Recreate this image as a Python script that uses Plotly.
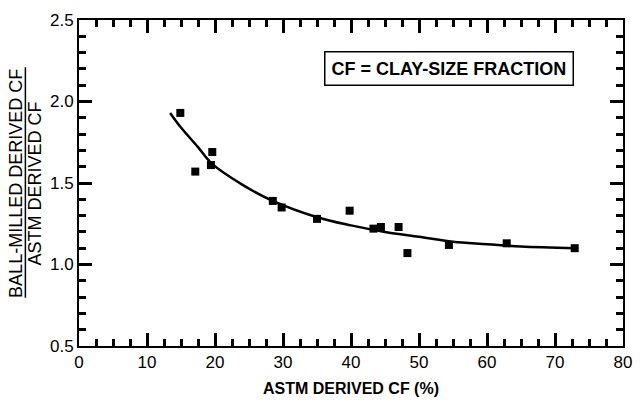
import plotly.graph_objects as go

# Measured ratios: ball-milled derived CF / ASTM derived CF
astm_cf = [14.9, 17.1, 19.4, 19.6, 28.5, 29.8, 35.0, 39.8, 43.3, 44.4, 47.0, 48.3, 54.4, 62.9, 72.9]
ratio = [1.93, 1.57, 1.61, 1.69, 1.39, 1.35, 1.28, 1.33, 1.22, 1.23, 1.23, 1.07, 1.12, 1.13, 1.10]

# Trend curve drawn through the data
trend_x = [13.4, 15.0, 17.5, 19.5, 24.0, 28.5, 35.0, 40.0, 45.0, 50.0, 55.0, 60.0, 65.0, 73.0]
trend_y = [1.93, 1.84, 1.72, 1.62, 1.49, 1.39, 1.29, 1.24, 1.20, 1.17, 1.14, 1.125, 1.11, 1.10]

x_range = [0, 80]
y_range = [0.5, 2.5]

FONT = "Liberation Sans, Arial, sans-serif"

fig = go.Figure()
fig.add_trace(go.Scatter(
    x=trend_x, y=trend_y, mode="lines",
    line=dict(color="black", width=2.5, shape="spline", smoothing=1.0),
    showlegend=False, hoverinfo="skip",
))
fig.add_trace(go.Scatter(
    x=astm_cf, y=ratio, mode="markers",
    marker=dict(symbol="square", size=8, color="black"),
    showlegend=False,
))
# the same data placed on the extra frame axes so they are laid out
for n in (2, 3, 4):
    fig.add_trace(go.Scatter(
        x=astm_cf, y=ratio, xaxis=f"x{n}", yaxis=f"y{n}", mode="markers",
        marker=dict(size=1, opacity=0), showlegend=False, hoverinfo="skip",
    ))

def frame_axis(rng, tick0, dtick, ticklen, tickwidth, **extra):
    return dict(
        range=rng, tickmode="linear", tick0=tick0, dtick=dtick,
        showgrid=False, zeroline=False, showline=True, linecolor="black",
        linewidth=2, mirror="allticks", ticks="inside", tickcolor="black",
        tickwidth=tickwidth, ticklen=ticklen, **extra,
    )

label_font = dict(family=FONT, size=17, color="black")

fig.update_layout(
    # major ticks (every 10 / every 0.5) with labels
    xaxis=frame_axis(x_range, 0, 10, 13, 3, tickfont=label_font),
    yaxis=frame_axis(y_range, 0.5, 0.5, 13, 3, tickformat=".1f", tickfont=label_font),
    # opposite-side copies of the major ticks
    xaxis2=frame_axis(x_range, 0, 10, 13, 3, overlaying="x", side="top",
                      anchor="y2", showticklabels=False),
    yaxis2=frame_axis(y_range, 0.5, 0.5, 13, 3, overlaying="y", side="right",
                      anchor="x2", showticklabels=False),
    # minor ticks (every 2.5 / every 0.1)
    xaxis3=frame_axis(x_range, 0, 2.5, 7, 3, overlaying="x", side="bottom",
                      anchor="y3", showticklabels=False),
    yaxis3=frame_axis(y_range, 0.5, 0.1, 7, 3, overlaying="y", side="left",
                      anchor="x3", showticklabels=False),
    xaxis4=frame_axis(x_range, 0, 2.5, 7, 3, overlaying="x", side="top",
                      anchor="y4", showticklabels=False),
    yaxis4=frame_axis(y_range, 0.5, 0.1, 7, 3, overlaying="y", side="right",
                      anchor="x4", showticklabels=False),
)

annotations = [
    dict(text="<b>ASTM DERIVED CF (%)</b>", xref="paper", yref="paper",
         x=0.5, y=-0.13, showarrow=False, xanchor="center", yanchor="middle",
         font=dict(family=FONT, size=16, color="black")),
    dict(text="BALL-MILLED DERIVED CF", xref="paper", yref="paper",
         x=-0.116, y=0.5, textangle=-90, showarrow=False,
         xanchor="center", yanchor="middle",
         font=dict(family=FONT, size=18, color="black")),
    dict(text="ASTM DERIVED CF", xref="paper", yref="paper",
         x=-0.08, y=0.5, textangle=-90, showarrow=False,
         xanchor="center", yanchor="middle",
         font=dict(family=FONT, size=18, color="black")),
    dict(text="<b>CF = CLAY-SIZE FRACTION</b>", xref="paper", yref="paper",
         x=(455 - 79) / 553, y=(346 - 64) / 331, showarrow=False,
         xanchor="center", yanchor="middle",
         bordercolor="black", borderwidth=1.5, borderpad=6, bgcolor="white",
         font=dict(family=FONT, size=18, color="black")),
]

shapes = [
    # fraction bar of the y-axis title
    dict(type="line", xref="paper", yref="paper",
         x0=(24.5 - 79) / 553, x1=(24.5 - 79) / 553,
         y0=(346 - 297) / 331, y1=(346 - 63) / 331,
         line=dict(color="black", width=1.5)),
]

fig.update_layout(
    width=643, height=402,
    margin=dict(l=79, r=11, t=15, b=56),
    paper_bgcolor="white", plot_bgcolor="white",
    annotations=annotations, shapes=shapes,
    font=dict(family=FONT, color="black"),
)

fig.write_html("out.html")
